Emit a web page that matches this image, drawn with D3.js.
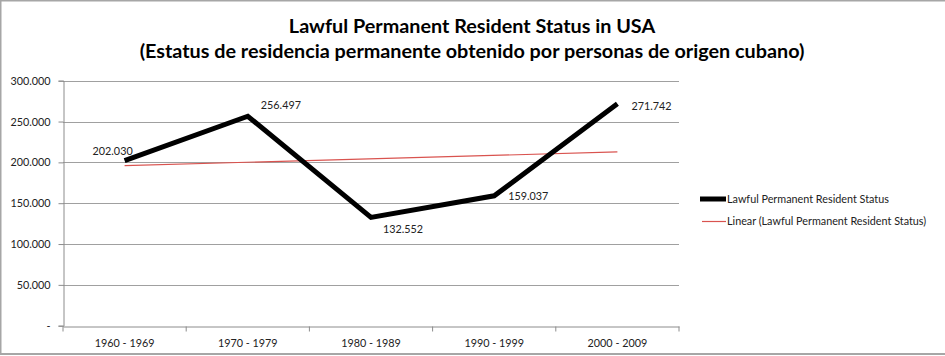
<!DOCTYPE html>
<html>
<head>
<meta charset="utf-8">
<script src="https://cdn.jsdelivr.net/npm/d3@7"></script>
<style>
  html, body { margin: 0; padding: 0; background: #fff; }
  svg { display: block; font-family: Lato, "Open Sans", sans-serif; }
</style>
</head>
<body>
<svg id="chart" width="945" height="356"></svg>
<script>
// ---- Data ----
const categories = ["1960 - 1969", "1970 - 1979", "1980 - 1989", "1990 - 1999", "2000 - 2009"];
const values = [202030, 256497, 132552, 159037, 271742];
const yTicks = [0, 50000, 100000, 150000, 200000, 250000, 300000];
const titleLines = [
  "Lawful Permanent Resident Status in USA",
  "(Estatus de residencia permanente obtenido por personas de origen cubano)"
];
const seriesName = "Lawful Permanent Resident Status";
const trendName = "Linear (Lawful Permanent Resident Status)";

// label placement (style): dx, dy, anchor
const labelPlacement = [
  { dx: -12, dy: -6, anchor: "middle" },
  { dx: 13, dy: -7, anchor: "start" },
  { dx: 12, dy: 16, anchor: "start" },
  { dx: 14, dy: 4, anchor: "start" },
  { dx: 14, dy: 6, anchor: "start" }
];

const svg = d3.select("#chart");
const W = 945, H = 356;

// Outer border (left, top, bottom visible)
svg.append("rect").attr("x", 0.5).attr("y", 0.5).attr("width", W + 20).attr("height", 353.5)
  .attr("fill", "none").attr("stroke", "#a6a6a6").attr("stroke-width", 2);

const plot = { left: 63, right: 679, top: 80.7, bottom: 325.7 };

const x = d3.scaleBand().domain(categories).range([plot.left, plot.right]).padding(0);
const y = d3.scaleLinear().domain([0, 300000]).range([plot.bottom, plot.top]);

const fmt = v => v === 0 ? "-" : d3.format(",")(v).replace(/,/g, ".");

// Gridlines
svg.append("g").selectAll("line").data(yTicks.filter(t => t > 0)).join("line")
  .attr("x1", plot.left).attr("x2", plot.right)
  .attr("y1", d => Math.round(y(d)) + 0.5).attr("y2", d => Math.round(y(d)) + 0.5)
  .attr("stroke", "#a0a0a0").attr("stroke-width", 1);

// Y axis
const yAxis = d3.axisLeft(y).tickValues(yTicks).tickSize(5).tickPadding(8).tickFormat(fmt);
const gy = svg.append("g").attr("transform", `translate(${plot.left + 0.5},0)`).call(yAxis);
gy.select(".domain").attr("stroke", "#8c8c8c");
gy.selectAll(".tick line").attr("stroke", "#8c8c8c");
gy.selectAll(".tick text").attr("font-size", 10.8).attr("fill", "#222").attr("font-family", "Lato, sans-serif");

// X axis
const xAxis = d3.axisBottom(x).tickSize(0).tickPadding(13);
const gx = svg.append("g").attr("transform", `translate(0,${Math.round(plot.bottom) + 0.5})`).call(xAxis);
gx.select(".domain").attr("stroke", "#8c8c8c");
gx.selectAll(".tick text").attr("font-size", 10.8).attr("fill", "#222").attr("font-family", "Lato, sans-serif");
// category boundary tick marks
gx.append("g").selectAll("line").data(categories.concat(["__end"])).join("line")
  .attr("x1", (d, i) => i < categories.length ? x(d) : plot.right)
  .attr("x2", (d, i) => i < categories.length ? x(d) : plot.right)
  .attr("y1", 0).attr("y2", 5).attr("stroke", "#8c8c8c");

const cx = i => x(categories[i]) + x.bandwidth() / 2;

// Trendline (least squares on category index, as the chart's "Linear" trendline)
const n = values.length;
const xs = d3.range(1, n + 1);
const mx = d3.mean(xs), my = d3.mean(values);
const slope = d3.sum(xs.map((xi, i) => (xi - mx) * (values[i] - my))) / d3.sum(xs.map(xi => (xi - mx) ** 2));
const intercept = my - slope * mx;
const trend = [intercept + slope * 1, intercept + slope * n];
svg.append("line")
  .attr("x1", cx(0)).attr("x2", cx(n - 1))
  .attr("y1", y(trend[0])).attr("y2", y(trend[1]))
  .attr("stroke", "#d9534f").attr("stroke-width", 1.2);

// Series line
const line = d3.line().x((d, i) => cx(i)).y(d => y(d));
svg.append("path").datum(values).attr("d", line)
  .attr("fill", "none").attr("stroke", "#000").attr("stroke-width", 5)
  .attr("stroke-linejoin", "miter").attr("stroke-linecap", "butt");

// Data labels
svg.append("g").selectAll("text").data(values).join("text")
  .attr("x", (d, i) => cx(i) + labelPlacement[i].dx)
  .attr("y", (d, i) => y(d) + labelPlacement[i].dy)
  .attr("text-anchor", (d, i) => labelPlacement[i].anchor)
  .attr("font-size", 10.8).attr("fill", "#222")
  .text(d => fmt(d));

// Title
svg.append("g").selectAll("text").data(titleLines).join("text")
  .attr("x", 472).attr("y", (d, i) => 33 + i * 25)
  .attr("text-anchor", "middle")
  .attr("font-size", 19.8).attr("font-weight", "bold").attr("fill", "#000")
  .text(d => d);

// Legend
const legend = svg.append("g");
legend.append("line").attr("x1", 700).attr("x2", 726).attr("y1", 199).attr("y2", 199)
  .attr("stroke", "#000").attr("stroke-width", 5);
legend.append("text").attr("x", 727).attr("y", 203).attr("font-size", 10.8).attr("fill", "#222").text(seriesName);
legend.append("line").attr("x1", 702).attr("x2", 726).attr("y1", 221.5).attr("y2", 221.5)
  .attr("stroke", "#d9534f").attr("stroke-width", 1.2);
legend.append("text").attr("x", 727).attr("y", 225).attr("font-size", 10.8).attr("fill", "#222").text(trendName);
</script>
</body>
</html>
